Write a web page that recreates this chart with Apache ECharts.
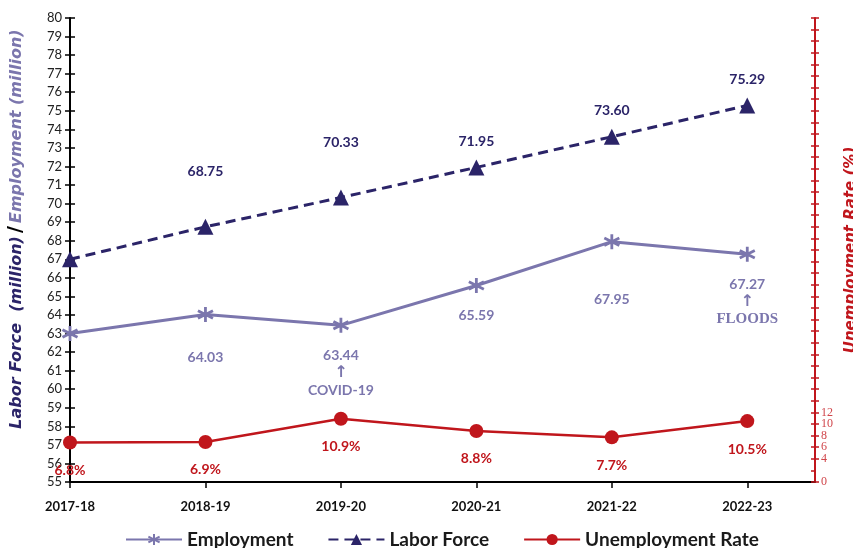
<!DOCTYPE html>
<html>
<head>
<meta charset="utf-8">
<script src="https://cdn.jsdelivr.net/npm/echarts@6/dist/echarts.min.js"></script>
<style>
  html, body { margin: 0; padding: 0; background: #fff; }
  #chart { width: 853px; height: 548px; }
</style>
</head>
<body>
<div id="chart"></div>
<script>
// Fiscal years along the horizontal axis
const years = ['2017-18', '2018-19', '2019-20', '2020-21', '2021-22', '2022-23'];
// Labor force and employment, millions
const laborForce = [67.0, 68.75, 70.33, 71.95, 73.60, 75.29];
const employment = [63.0, 64.03, 63.44, 65.59, 67.95, 67.27];
// Unemployment rate, percent
const unemploymentRate = [6.8, 6.9, 10.9, 8.8, 7.7, 10.5];
// Notes attached under selected employment points
const employmentNotes = [null, null, 'COVID-19', null, null, 'FLOODS'];

const NAVY = '#2b2468';
const LAVENDER = '#7b76ad';
const RED = '#c0161c';
const FONT = 'Lato, "Open Sans", sans-serif';
const WIDE = '"DejaVu Sans", Verdana, sans-serif';
const SERIF = '"Liberation Serif", "DejaVu Serif", serif';

// Label distances from the marker (styling only)
const laborDist = [0, 40, 40, 11, 11, 11];
const employDist = [0, 26, 13, 13, 40, 13];

const laborData = laborForce.map((v, i) => ({
  value: [i, v],
  label: i === 0 ? { show: false } : { show: true, distance: laborDist[i] }
}));

const employData = employment.map((v, i) => {
  if (i === 0) return { value: [i, v], label: { show: false } };
  const note = employmentNotes[i];
  const lbl = { show: true, distance: employDist[i] };
  if (note) {
    const noteStyle = note === 'FLOODS' ? 'serif' : 'note';
    lbl.formatter = '{v|' + v.toFixed(2) + '}\n{arr|↑}\n{' + noteStyle + '|' + note + '}';
  }
  return { value: [i, v], label: lbl };
});

const rateData = unemploymentRate.map((v, i) => [i, v]);

// Excel-style asterisk marker
const starPath = 'path://M0,-10L0,10M-8.66,-5L8.66,5M-8.66,5L8.66,-5';

const chart = echarts.init(document.getElementById('chart'));
chart.setOption({
  animation: false,
  textStyle: { fontFamily: FONT },
  grid: { left: 70, right: 38, top: 18, bottom: 66, outerBoundsMode: 'none', containLabel: false },
  legend: {
    left: 120,
    top: 525,
    itemWidth: 56,
    itemHeight: 14,
    itemGap: 34,
    textStyle: { fontSize: 19, fontWeight: 'bold', color: '#1a1a1a', fontFamily: FONT },
    data: ['Employment', 'Labor Force', 'Unemployment Rate']
  },
  xAxis: {
    type: 'value',
    min: 0,
    max: 5.5,
    interval: 1,
    axisLine: { show: true, lineStyle: { color: '#000', width: 2 } },
    axisTick: { show: true, length: 6, lineStyle: { color: '#000', width: 1.5 } },
    axisLabel: {
      color: '#111', fontSize: 13, fontWeight: 'bold', margin: 18, fontFamily: FONT,
      showMaxLabel: false,
      formatter: v => (Number.isInteger(v) && years[v] ? years[v] : '')
    },
    splitLine: { show: false }
  },
  yAxis: [
    {
      type: 'value',
      position: 'left',
      min: 55, max: 80, interval: 1,
      axisLine: { show: true, lineStyle: { color: '#000', width: 2 } },
      axisTick: { show: true, length: 5, lineStyle: { color: '#000', width: 1.5 } },
      axisLabel: { color: '#222', fontSize: 13, margin: 8, fontFamily: FONT, showMinLabel: true, showMaxLabel: true },
      splitLine: { show: false },
      name: '{a|Labor Force  (million)} {s|/} {b|Employment (million)}',
      nameLocation: 'middle',
      nameRotate: 90,
      nameGap: 44,
      nameTextStyle: {
        padding: [0, 0, 0, 42],
        rich: {
          a: { color: NAVY, fontSize: 16, fontWeight: 'bold', fontStyle: 'italic', fontFamily: WIDE },
          s: { color: '#000', fontSize: 19, fontWeight: 'bold', fontFamily: WIDE },
          b: { color: LAVENDER, fontSize: 16, fontWeight: 'bold', fontStyle: 'italic', fontFamily: WIDE }
        }
      }
    },
    {
      type: 'value',
      position: 'right',
      min: 0, max: 80, interval: 2,
      axisLine: { show: true, lineStyle: { color: RED, width: 2 } },
      axisTick: { show: true, length: 4, lineStyle: { color: RED, width: 1.5 } },
      axisLabel: {
        color: '#d0454a', fontSize: 12, margin: 6, fontFamily: SERIF,
        showMinLabel: true,
        formatter: v => (v <= 12 ? String(v) : '')
      },
      splitLine: { show: false },
      name: 'Unemployment Rate (%)',
      nameLocation: 'middle',
      nameRotate: 90,
      nameGap: 15,
      nameTextStyle: {
        color: RED, fontSize: 15, fontWeight: 'bold', fontStyle: 'italic', fontFamily: WIDE,
        padding: [0, 0, 10, 0]
      }
    },
    {
      // inner half of the crossing ticks on the left axis
      type: 'value', position: 'left', min: 55, max: 80, interval: 1,
      axisLine: { show: false },
      axisTick: { show: true, inside: true, length: 5, lineStyle: { color: '#000', width: 1.5 } },
      axisLabel: { show: false }, splitLine: { show: false }
    },
    {
      // inner half of the crossing ticks on the right axis
      type: 'value', position: 'right', min: 0, max: 80, interval: 2,
      axisLine: { show: false },
      axisTick: { show: true, inside: true, length: 4, lineStyle: { color: RED, width: 1.5 } },
      axisLabel: { show: false }, splitLine: { show: false }
    }
  ],
  series: [
    {
      name: 'Employment',
      type: 'line',
      yAxisIndex: 0,
      data: employData,
      symbol: starPath,
      symbolSize: 15,
      lineStyle: { color: LAVENDER, width: 3 },
      itemStyle: { color: LAVENDER, borderColor: LAVENDER, borderWidth: 2.8 },
      label: {
        position: 'bottom',
        color: LAVENDER,
        fontSize: 14,
        fontWeight: 'bold',
        fontFamily: FONT,
        lineHeight: 17,
        formatter: p => p.value[1].toFixed(2),
        rich: {
          v: { color: LAVENDER, fontSize: 14, fontWeight: 'bold', fontFamily: FONT, lineHeight: 17 },
          arr: { color: LAVENDER, fontSize: 16, fontWeight: 'bold', fontFamily: '"DejaVu Sans", sans-serif', lineHeight: 17 },
          note: { color: LAVENDER, fontSize: 14, fontWeight: 'bold', fontFamily: FONT, lineHeight: 19 },
          serif: { color: LAVENDER, fontSize: 15, fontWeight: 'bold', fontFamily: SERIF, lineHeight: 17 }
        }
      },
      z: 3
    },
    {
      name: 'Labor Force',
      type: 'line',
      yAxisIndex: 0,
      data: laborData,
      symbol: 'triangle',
      symbolSize: 16,
      lineStyle: { color: NAVY, width: 3, type: [10, 6] },
      itemStyle: { color: NAVY },
      label: {
        position: 'top', color: NAVY, fontSize: 14, fontWeight: 'bold', fontFamily: FONT,
        formatter: p => p.value[1].toFixed(2)
      },
      z: 4
    },
    {
      name: 'Unemployment Rate',
      type: 'line',
      yAxisIndex: 1,
      data: rateData,
      symbol: 'circle',
      symbolSize: 14,
      lineStyle: { color: RED, width: 2.5 },
      itemStyle: { color: RED },
      label: {
        show: true,
        position: 'bottom',
        distance: 14,
        color: RED,
        fontSize: 14,
        fontWeight: 'bold',
        fontFamily: FONT,
        formatter: p => p.value[1].toFixed(1) + '%'
      },
      z: 5
    }
  ]
});
</script>
</body>
</html>
